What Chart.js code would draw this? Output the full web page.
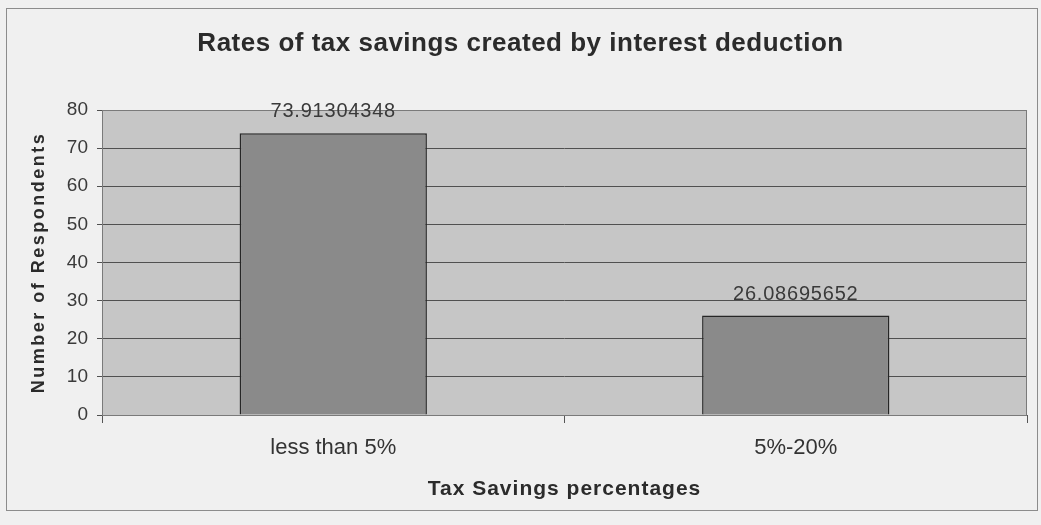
<!DOCTYPE html>
<html>
<head>
<meta charset="utf-8">
<script src="https://cdn.jsdelivr.net/npm/chart.js@4/dist/chart.umd.min.js"></script>
<style>
  html, body { margin: 0; padding: 0; background: #f0f0f0; }
  #wrap { position: relative; width: 1041px; height: 525px; }
  #frame { position: absolute; left: 6px; top: 8px; width: 1030px; height: 501px; border: 1px solid #8c8c8c; }
  canvas { position: absolute; left: 0; top: 0; }
</style>
</head>
<body>
<div id="wrap">
  <div id="frame"></div>
  <canvas id="mycanvas" width="1041" height="525"></canvas>
</div>
<script>
var categories = ['less than 5%', '5%-20%'];
var respondents = [73.91304348, 26.08695652];
var valueLabels = ['73.91304348', '26.08695652'];
var yTicks = [0, 10, 20, 30, 40, 50, 60, 70, 80];
var chartTitle = 'Rates of tax savings created by interest deduction';
var xTitle = 'Tax Savings percentages';
var yTitle = 'Number of Respondents';

var fontFamily = '"Liberation Sans", Arial, sans-serif';

// grey plot area like the old spreadsheet chart
var plotBackground = {
    id: 'plotBackground',
    beforeDraw: function(chart) {
        var a = chart.chartArea;
        var ctx = chart.ctx;
        ctx.save();
        ctx.fillStyle = '#c6c6c6';
        ctx.fillRect(a.left, a.top, a.right - a.left, a.bottom - a.top);
        ctx.restore();
    },
    afterDraw: function(chart) {
        var a = chart.chartArea;
        var ctx = chart.ctx;
        ctx.save();
        ctx.strokeStyle = '#7a7a7a';
        ctx.lineWidth = 1;
        ctx.strokeRect(a.left + 0.5, a.top + 0.5, a.right - a.left - 1, a.bottom - a.top);
        ctx.restore();
    }
};

// titles and value labels, drawn with a bit of letter spacing
var textPlugin = {
    id: 'textPlugin',
    afterDraw: function(chart) {
        var ctx = chart.ctx;
        var a = chart.chartArea;
        var meta = chart.getDatasetMeta(0);
        ctx.save();
        ctx.textAlign = 'center';
        ctx.textBaseline = 'alphabetic';

        ctx.fillStyle = '#2b2b2b';
        ctx.font = 'bold 26px ' + fontFamily;
        ctx.letterSpacing = '0.5px';
        ctx.fillText(chartTitle, chart.width / 2, 51);

        ctx.font = 'bold 21px ' + fontFamily;
        ctx.letterSpacing = '1px';
        ctx.fillText(xTitle, (a.left + a.right) / 2, 495);

        ctx.save();
        ctx.translate(44, (a.top + a.bottom) / 2);
        ctx.rotate(-Math.PI / 2);
        ctx.font = 'bold 18px ' + fontFamily;
        ctx.letterSpacing = '2.5px';
        ctx.fillText(yTitle, 0, 0);
        ctx.restore();

        ctx.fillStyle = '#3a3a3a';
        ctx.font = '20px ' + fontFamily;
        ctx.letterSpacing = '0.8px';
        meta.data.forEach(function(bar, i) {
            ctx.fillText(valueLabels[i], bar.x, bar.y - 16);
        });
        ctx.restore();
    }
};

var ctx = document.getElementById('mycanvas');

var barGraph = new Chart(ctx, {
    type: 'bar',
    data: {
        labels: categories,
        datasets: [{
            label: yTitle,
            data: respondents,
            backgroundColor: '#8a8a8a',
            borderColor: '#262626',
            borderWidth: 1.5,
            categoryPercentage: 0.405,
            barPercentage: 1.0
        }]
    },
    options: {
        responsive: false,
        animation: false,
        layout: { padding: { left: 0, right: 14, top: 110, bottom: 0 } },
        plugins: {
            legend: { display: false },
            tooltip: { enabled: false },
            title: { display: false }
        },
        scales: {
            x: {
                afterFit: function(axis) { axis.height = 110; },
                grid: { drawOnChartArea: false, offset: true, tickLength: 8, color: '#555555' },
                border: { display: false },
                ticks: {
                    color: '#333333',
                    padding: 12,
                    font: { family: fontFamily, size: 22 }
                }
            },
            y: {
                min: 0,
                max: 80,
                afterFit: function(axis) { axis.width = 102; },
                afterBuildTicks: function(axis) {
                    axis.ticks = yTicks.map(function(v) { return { value: v }; });
                },
                grid: { color: '#505050', lineWidth: 1, tickLength: 5 },
                border: { display: false },
                ticks: {
                    color: '#3a3a3a',
                    padding: 9,
                    font: { family: fontFamily, size: 19 }
                }
            }
        }
    },
    plugins: [plotBackground, textPlugin]
});
</script>
</body>
</html>
